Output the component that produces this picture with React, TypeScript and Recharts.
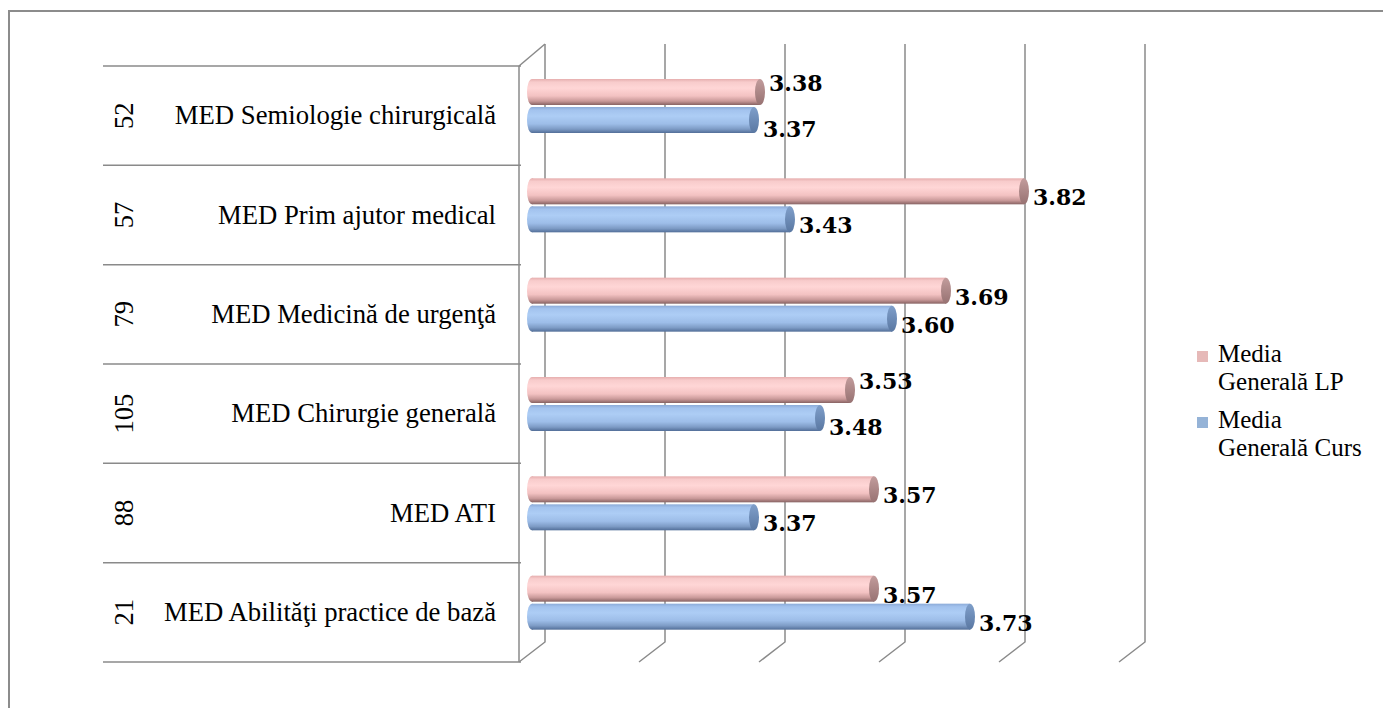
import React from 'react';
import { BarChart, Bar, XAxis, YAxis, CartesianGrid, Legend, LabelList } from 'recharts';

const categories = [
  'MED Semiologie chirurgicală',
  'MED Prim ajutor medical',
  'MED Medicină de urgenţă',
  'MED Chirurgie generală',
  'MED ATI',
  'MED Abilităţi practice de bază',
];
const counts = ['52', '57', '79', '105', '88', '21'];
const mediaLP = [3.38, 3.82, 3.69, 3.53, 3.57, 3.57];
const mediaCurs = [3.37, 3.43, 3.6, 3.48, 3.37, 3.73];
const xTicks = [3, 3.2, 3.4, 3.6, 3.8, 4];
const seriesNames = ['Media Generală LP', 'Media Generală Curs'];

const data = categories.map((name, i) => ({
  name,
  count: counts[i],
  lp: mediaLP[i],
  curs: mediaCurs[i],
}));

const W = 1375;
const H = 700;
const M_TOP = 48;
const M_RIGHT = 251;
const M_BOTTOM = 26;
const X_AXIS_H = 30;
const Y_AXIS_W = 524;
const PLOT_H = H - M_TOP - M_BOTTOM - X_AXIS_H;
const BAND = PLOT_H / categories.length;
const DX = 13;
const SHIFT = 10;
const LINE = '#8a8a8a';
const CAP_RX = 5;

const serif = '"Liberation Serif", "Times New Roman", serif';

const GridLine = (props: any) => {
  const { x1, y1, y2, index } = props;
  const backX = x1 + DX;
  const frontX = x1 - DX;
  const backTop = y1 - 12;
  const backBottom = y2 - SHIFT;
  const frontBottom = y2 + SHIFT;
  return (
    <g key={`g-${index}`}>
      <polyline
        points={`${backX},${backTop} ${backX},${backBottom} ${frontX},${frontBottom}`}
        fill="none"
        stroke={LINE}
        strokeWidth={1.5}
      />
      {index === 0 ? (
        <polyline
          points={`${frontX},${y1 + SHIFT} ${backX},${backTop}`}
          fill="none"
          stroke={LINE}
          strokeWidth={1.5}
        />
      ) : null}
      {index === 0 ? (
        <line x1={frontX} y1={y1 + SHIFT} x2={frontX} y2={frontBottom} stroke={LINE} strokeWidth={1.5} />
      ) : null}
    </g>
  );
};

const EmptyTick = () => <g />;

const YTick = (props: any) => {
  const { y, payload, index } = props;
  const i = typeof index === 'number' ? index : categories.indexOf(payload.value);
  const cy = y + SHIFT;
  const lineX1 = 95;
  const lineX2 = Y_AXIS_W - DX + 2;
  return (
    <g>
      {i === 0 ? (
        <line x1={lineX1} y1={cy - BAND / 2} x2={lineX2} y2={cy - BAND / 2} stroke={LINE} strokeWidth={1.5} />
      ) : null}
      <line x1={lineX1} y1={cy + BAND / 2} x2={lineX2} y2={cy + BAND / 2} stroke={LINE} strokeWidth={1.5} />
      <text
        x={116}
        y={cy}
        transform={`rotate(-90, 116, ${cy})`}
        textAnchor="middle"
        dy="0.35em"
        fontFamily={serif}
        fontSize={26.5}
        fill="#000"
      >
        {counts[i]}
      </text>
      <text x={488} y={cy} textAnchor="end" dy="0.33em" fontFamily={serif} fontSize={26.7} fill="#000">
        {payload.value}
      </text>
    </g>
  );
};

const makeCylinder = (grad: string, cap: string) => (props: any) => {
  const { x, y, width, height } = props;
  if (width == null || height == null) return <g />;
  const cy = y + height / 2;
  const ry = height / 2;
  return (
    <g>
      <ellipse cx={x} cy={cy} rx={CAP_RX} ry={ry} fill={`url(#${grad})`} />
      <rect x={x} y={y} width={width} height={height} fill={`url(#${grad})`} />
      <ellipse cx={x + width} cy={cy} rx={CAP_RX} ry={ry} fill={`url(#${cap})`} />
    </g>
  );
};

const makeLabel = (series: 'lp' | 'curs') => (props: any) => {
  const { x, y, width, height, value, index } = props;
  const i = typeof index === 'number' ? index : (series === 'lp' ? mediaLP : mediaCurs).indexOf(value);
  const other = series === 'lp' ? mediaCurs[i] : mediaLP[i];
  const close = Math.abs(Number(value) - Number(other)) < 0.085;
  const dy = close ? (series === 'lp' ? -9 : 9) : 6;
  return (
    <text
      x={x + width + CAP_RX + 4}
      y={y + height / 2 + dy}
      dy="0.36em"
      fontFamily='"DejaVu Serif", serif'
      fontWeight="bold"
      fontSize={22}
      fill="#000"
    >
      {Number(value).toFixed(2)}
    </text>
  );
};

const renderLegend = (props: any) => {
  const payload = [...(props.payload || [])].sort(
    (a: any, b: any) => seriesNames.indexOf(String(a.value)) - seriesNames.indexOf(String(b.value))
  );
  return (
    <div style={{ fontFamily: serif, fontSize: 25, lineHeight: '28px', color: '#000' }}>
      {payload.map((e: any, i: number) => {
        const words = String(e.value).split(' ');
        const first = words[0];
        const rest = words.slice(1).join(' ');
        return (
          <div key={i} style={{ position: 'relative', paddingLeft: 24, marginBottom: i === 0 ? 10 : 0 }}>
            <span
              style={{ position: 'absolute', left: 3, top: 11, width: 11, height: 11, background: e.color }}
            />
            <div>{first}</div>
            <div>{rest}</div>
          </div>
        );
      })}
    </div>
  );
};

export default function App() {
  return (
    <div style={{ position: 'relative', width: W, height: H }}>
      <div style={{ position: 'absolute', left: 0, top: 2, width: 1383, height: 2, background: '#8c8c8c' }} />
      <div style={{ position: 'absolute', left: 0, top: 2, width: 2, height: 712, background: '#8c8c8c' }} />
      <div style={{ position: 'absolute', left: 0, top: 0 }}>
        <BarChart
          width={W}
          height={H}
          data={data}
          layout="vertical"
          margin={{ top: M_TOP, right: M_RIGHT, bottom: M_BOTTOM, left: 0 }}
          barSize={26}
          barGap={2}
        >
          <defs>
            <linearGradient id="gLP" x1="0" y1="0" x2="0" y2="1">
              <stop offset="0%" stopColor="#e6aeae" />
              <stop offset="12%" stopColor="#f8cccc" />
              <stop offset="35%" stopColor="#ffd6d6" />
              <stop offset="65%" stopColor="#f3c2c2" />
              <stop offset="85%" stopColor="#c99999" />
              <stop offset="100%" stopColor="#876262" />
            </linearGradient>
            <linearGradient id="cLP" x1="0" y1="0" x2="0" y2="1">
              <stop offset="0%" stopColor="#c29c9c" />
              <stop offset="100%" stopColor="#977272" />
            </linearGradient>
            <linearGradient id="gCurs" x1="0" y1="0" x2="0" y2="1">
              <stop offset="0%" stopColor="#8cabd8" />
              <stop offset="12%" stopColor="#a3c3ee" />
              <stop offset="35%" stopColor="#adcdf5" />
              <stop offset="65%" stopColor="#9dbde8" />
              <stop offset="85%" stopColor="#7d9bc5" />
              <stop offset="100%" stopColor="#526e98" />
            </linearGradient>
            <linearGradient id="cCurs" x1="0" y1="0" x2="0" y2="1">
              <stop offset="0%" stopColor="#7f9fca" />
              <stop offset="100%" stopColor="#5a78a2" />
            </linearGradient>
          </defs>
          <CartesianGrid horizontal={false} vertical={GridLine as any} stroke={LINE} />
          <XAxis
            type="number"
            domain={[3, 4]}
            ticks={xTicks}
            interval={0}
            axisLine={false}
            tickLine={false}
            tick={EmptyTick as any}
            height={X_AXIS_H}
          />
          <YAxis
            type="category"
            dataKey="name"
            width={Y_AXIS_W}
            axisLine={false}
            tickLine={false}
            interval={0}
            tick={YTick as any}
          />
          <Legend
            layout="vertical"
            align="center"
            verticalAlign="middle"
            itemSorter={null as any}
            wrapperStyle={{ position: 'absolute', left: 1186, top: 332, width: 180 }}
            content={renderLegend as any}
          />
          <Bar
            dataKey="lp"
            name={seriesNames[0]}
            fill="#E6B9B8"
            isAnimationActive={false}
            shape={makeCylinder('gLP', 'cLP') as any}
          >
            <LabelList dataKey="lp" content={makeLabel('lp') as any} />
          </Bar>
          <Bar
            dataKey="curs"
            name={seriesNames[1]}
            fill="#95B3D7"
            isAnimationActive={false}
            shape={makeCylinder('gCurs', 'cCurs') as any}
          >
            <LabelList dataKey="curs" content={makeLabel('curs') as any} />
          </Bar>
        </BarChart>
      </div>
    </div>
  );
}
